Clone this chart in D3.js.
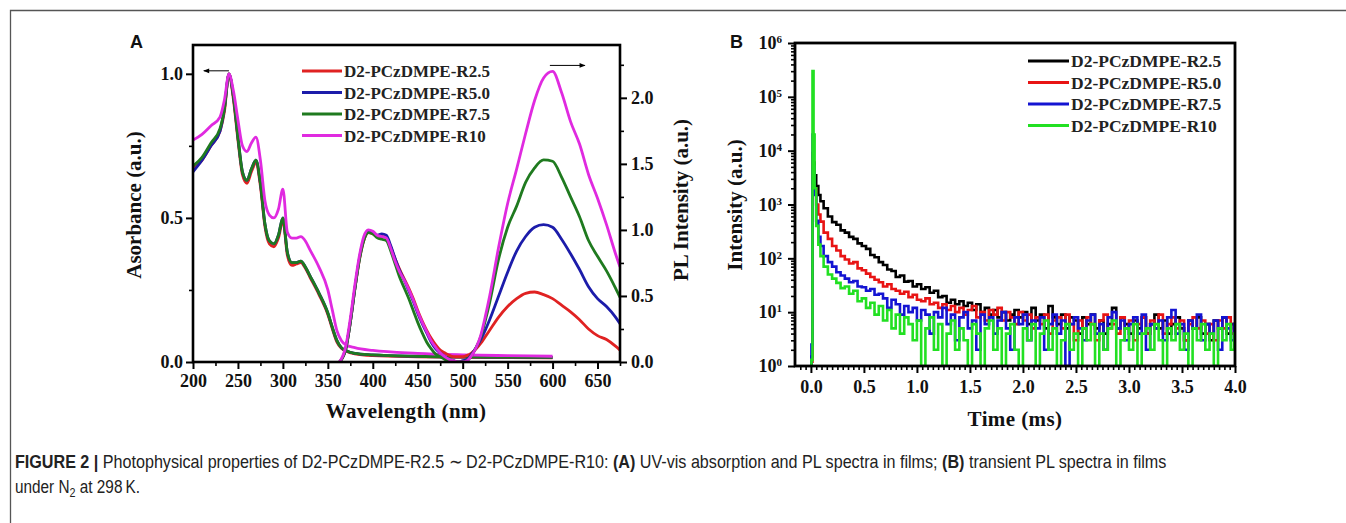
<!DOCTYPE html>
<html><head><meta charset="utf-8">
<script src="https://cdn.jsdelivr.net/npm/d3@7"></script>
<style>html,body{margin:0;padding:0;background:#fff;} svg{display:block;}</style>
</head><body>
<script>
// ---------- DATA ----------
const seriesNames = ["D2-PCzDMPE-R2.5","D2-PCzDMPE-R5.0","D2-PCzDMPE-R7.5","D2-PCzDMPE-R10"];
const colorsA = ["#e02222","#1c1caa","#1f7a1f","#e02ae0"];
const colorsB = ["#000000","#e81414","#1414d2","#22e022"];

// Panel A: UV-vis absorption (left axis)
const absWave = [200,210,220,230,235,240,245,250,255,260,265,270,275,280,285,290,295,300,305,310,315,320,325,330,340,350,355,360,365,370,380,400,450,500,550,600];
const absR25 = [0.67,0.70,0.75,0.80,0.87,1.0,0.91,0.77,0.65,0.62,0.66,0.69,0.61,0.47,0.41,0.40,0.43,0.49,0.37,0.335,0.34,0.345,0.325,0.295,0.235,0.165,0.115,0.07,0.048,0.038,0.028,0.022,0.018,0.016,0.015,0.014];
const absR50 = [0.66,0.70,0.75,0.80,0.88,1.0,0.92,0.78,0.66,0.63,0.67,0.70,0.62,0.48,0.42,0.41,0.44,0.50,0.38,0.345,0.345,0.35,0.33,0.30,0.24,0.17,0.12,0.075,0.05,0.04,0.03,0.025,0.02,0.018,0.017,0.016];
const absR75 = [0.68,0.71,0.76,0.81,0.88,1.0,0.92,0.78,0.66,0.63,0.67,0.70,0.62,0.48,0.42,0.41,0.44,0.50,0.38,0.345,0.345,0.35,0.33,0.30,0.24,0.17,0.12,0.075,0.05,0.04,0.03,0.025,0.02,0.018,0.017,0.016];
const absR10 = [0.77,0.79,0.82,0.85,0.91,1.0,0.94,0.84,0.75,0.73,0.76,0.78,0.70,0.56,0.51,0.50,0.53,0.60,0.45,0.43,0.43,0.435,0.42,0.39,0.33,0.25,0.18,0.11,0.075,0.06,0.05,0.04,0.03,0.025,0.022,0.02];

// Panel A: PL spectra (right axis)
const plWave = [363,370,375,380,385,390,395,400,405,410,415,420,425,430,435,440,445,450,455,460,465,470,475,480,485,490,495,500,505,510,515,520,525,530,540,550,560,570,580,590,600,610,620,630,640,650,660,670,675];
const plR25 = [0,0.10,0.30,0.55,0.77,0.92,0.98,0.97,0.95,0.95, 0.94,0.87,0.78,0.70,0.63,0.56,0.48,0.39,0.31,0.24, 0.18,0.13,0.09,0.07,0.05,0.04,0.04,0.04,0.05,0.07, 0.10,0.14,0.19,0.24,0.34,0.42,0.48,0.52,0.53,0.51, 0.48,0.43,0.38,0.32,0.25,0.20,0.17,0.12,0.09];
const plR50 = [0,0.10,0.30,0.55,0.78,0.93,0.99,0.98,0.96,0.97, 0.96,0.88,0.78,0.69,0.62,0.54,0.46,0.37,0.29,0.22, 0.15,0.10,0.07,0.04,0.02,0.01,0.0,0.01,0.02,0.06, 0.11,0.17,0.24,0.32,0.50,0.68,0.84,0.95,1.02,1.04, 1.02,0.93,0.82,0.70,0.57,0.48,0.42,0.34,0.29];
const plR75 = [0,0.10,0.30,0.55,0.77,0.92,0.98,0.97,0.94,0.93, 0.92,0.84,0.74,0.64,0.56,0.48,0.39,0.30,0.22,0.15, 0.10,0.06,0.04,0.02,0.01,0.0,0.0,0.0,0.01,0.05, 0.11,0.19,0.31,0.45,0.78,1.02,1.18,1.36,1.47,1.53, 1.52,1.40,1.25,1.10,0.92,0.80,0.69,0.56,0.49];
const plR10 = [0,0.12,0.33,0.58,0.80,0.95,1.0,0.99,0.96,0.95, 0.94,0.86,0.76,0.68,0.62,0.55,0.47,0.38,0.30,0.23, 0.16,0.11,0.07,0.04,0.02,0.01,0.0,0.0,0.01,0.05, 0.11,0.20,0.34,0.50,0.87,1.20,1.46,1.73,1.98,2.15, 2.20,2.04,1.82,1.65,1.42,1.24,1.04,0.82,0.72];

// Panel B: transient PL decay (time in ms)
const decayTime = [0,0.01,0.02,0.03,0.04,0.06,0.08,0.10,
 0.14,0.18,0.22,0.26,0.30,0.34,0.38,0.42,0.46,0.50,
 0.54,0.58,0.62,0.66,0.70,0.74,0.78,0.82,0.86,0.90,
 0.94,0.98,1.02,1.06,1.10,1.14,1.18,1.22,1.26,1.30,
 1.34,1.38,1.42,1.46,1.50,1.54,1.58,1.62,1.66,1.70,
 1.74,1.78,1.82,1.86,1.90,1.94,1.98,2.02,2.06,2.10,
 2.14,2.18,2.22,2.26,2.30,2.34,2.38,2.42,2.46,2.50,
 2.54,2.58,2.62,2.66,2.70,2.74,2.78,2.82,2.86,2.90,
 2.94,2.98,3.02,3.06,3.10,3.14,3.18,3.22,3.26,3.30,
 3.34,3.38,3.42,3.46,3.50,3.54,3.58,3.62,3.66,3.70,
 3.74,3.78,3.82,3.86,3.90,3.94,3.98,4.00];
const decR25 = [1,1.5,9000,6000,3500,2200,1500,1150,
 850,600,470,420,330,300,250,230,190,170,
 150,115,105,85,75,62,58,45,48,37,
 38,30,33,27,29,23,25,19,20,15,
 17,14,16,13,15,11,14,10,12,9,
 11,8,10,7,9,11,8,10,6,12,
 7,9,5,13,8,6,9,5,8,7,
 4,8,6,9,5,7,4,6,12,5,
 8,6,4,7,5,8,4,6,9,5,
 7,4,6,8,5,3,7,5,8,4,
 6,3,7,5,8,4,6,5];
const decR50 = [1,1.2,7000,4000,2000,1000,650,480,
 300,230,170,140,110,95,80,85,65,60,
 52,45,40,36,30,33,27,25,22,24,
 19,21,17,16,18,14,15,12,14,11,
 13,10,12,9,11,13,8,10,7,11,
 9,12,7,10,8,6,10,7,9,5,
 8,6,9,4,7,8,5,9,6,3,
 7,5,8,6,3,7,9,5,6,4,
 8,5,7,3,6,8,4,7,5,9,
 4,6,8,5,7,3,6,8,5,7,
 4,6,3,7,5,8,4,6];
const decR75 = [1,2.5,20000,5000,1500,500,250,170,
 110,85,70,55,48,42,36,38,30,29,
 25,27,21,22,18,12,17,14,9,13,
 10,12,7,11,9,4,10,8,12,6,
 9,3,8,10,5,7,2,9,6,8,
 4,7,10,5,2,8,6,9,3,7,
 5,8,2,6,9,4,7,1,6,8,
 5,3,7,9,4,6,2,8,10,5,
 7,3,6,8,4,9,2,6,5,7,
 3,8,11,4,6,2,7,5,9,3,
 6,4,7,2,8,5,3,6];
const decR10 = [1,1.3,300000,20000,2000,400,180,110,
 70,50,42,35,28,30,22,25,16,18,
 12,15,9,13,7,11,5,9,4,8,
 6,3,7,1,5,8,2,6,1,4,
 7,2,5,3,1,6,4,1,5,7,
 2,5,1,4,6,2,1,5,3,6,
 1,4,7,2,5,1,3,6,2,4,
 1,5,3,6,1,4,2,5,7,1,
 3,5,2,6,1,4,5,2,6,3,
 1,5,3,6,2,4,1,5,3,6,
 2,4,1,5,3,6,2,4];

const xTicksA = [200,250,300,350,400,450,500,550,600,650];
const yTicksA = [0.0,0.5,1.0];
const yTicksA2 = [0.0,0.5,1.0,1.5,2.0];
const xTicksB = [0.0,0.5,1.0,1.5,2.0,2.5,3.0,3.5,4.0];
const yTicksB = [1,10,100,1000,10000,100000,1000000];

// ---------- DRAW ----------
const W = 1346, H = 523;
const svg = d3.select("body").append("svg").attr("width", W).attr("height", H)
  .style("font-family", "'Liberation Serif', 'Times New Roman', serif");
svg.append("rect").attr("width", W).attr("height", H).attr("fill", "#fff");

svg.append("path").attr("d", `M10.5,${H} V10.5 H${W}`).attr("fill", "none").attr("stroke", "#555").attr("stroke-width", 1.3);

function styleAxis(g) {
  g.select(".domain").remove();
  g.selectAll("line").attr("stroke", "#000").attr("stroke-width", 2);
  g.selectAll("text").attr("font-size", "18px").attr("font-weight", "bold")
    .attr("fill", "#111").attr("font-family", "'Liberation Serif', serif");
}
function minorAxis(g) {
  g.select(".domain").remove();
  g.selectAll("line").attr("stroke", "#000").attr("stroke-width", 1.6);
  g.selectAll("text").remove();
}

// ===== Panel A =====
const A = {l: 193, r: 620, t: 45, b: 362};
const xA = d3.scaleLinear().domain([200, 675]).range([A.l, A.r]);
const yA = d3.scaleLinear().domain([0, 1.1]).range([A.b, A.t]);
const yA2 = d3.scaleLinear().domain([0, 2.4]).range([A.b, A.t]);

svg.append("clipPath").attr("id", "clipA").append("rect")
  .attr("x", A.l).attr("y", A.t).attr("width", A.r - A.l).attr("height", A.b - A.t);

const gA = svg.append("g");
gA.append("g").attr("transform", `translate(0,${A.b})`)
  .call(d3.axisBottom(xA).tickValues(d3.range(225, 676, 50)).tickSize(4).tickFormat("")).call(minorAxis);
gA.append("g").attr("transform", `translate(${A.l},0)`)
  .call(d3.axisLeft(yA).tickValues([0.25, 0.75]).tickSize(4).tickFormat("")).call(minorAxis);
gA.append("g").attr("transform", `translate(${A.r},0)`)
  .call(d3.axisRight(yA2).tickValues([0.25, 0.75, 1.25, 1.75, 2.25]).tickSize(4).tickFormat("")).call(minorAxis);
gA.append("g").attr("transform", `translate(0,${A.b})`)
  .call(d3.axisBottom(xA).tickValues(xTicksA).tickSize(7).tickPadding(5).tickFormat(d3.format("d"))).call(styleAxis);
gA.append("g").attr("transform", `translate(${A.l},0)`)
  .call(d3.axisLeft(yA).tickValues(yTicksA).tickSize(7).tickPadding(3).tickFormat(d3.format(".1f"))).call(styleAxis);
gA.append("g").attr("transform", `translate(${A.r},0)`)
  .call(d3.axisRight(yA2).tickValues(yTicksA2).tickSize(7).tickPadding(4).tickFormat(d3.format(".1f"))).call(styleAxis);

const plotA = gA.append("g").attr("clip-path", "url(#clipA)");
const absSets = [absR25, absR50, absR75, absR10];
const plSets = [plR25, plR50, plR75, plR10];
const lineAbs = d3.line().x((d, i) => xA(absWave[i])).y(d => yA(d)).curve(d3.curveMonotoneX);
const linePL = d3.line().x((d, i) => xA(plWave[i])).y(d => yA2(d)).curve(d3.curveMonotoneX);
absSets.forEach((s, k) => {
  plotA.append("path").attr("d", lineAbs(s)).attr("fill", "none").attr("stroke", colorsA[k])
    .attr("stroke-width", 2.8).attr("stroke-linejoin", "round");
});
plSets.forEach((s, k) => {
  plotA.append("path").attr("d", linePL(s)).attr("fill", "none").attr("stroke", colorsA[k])
    .attr("stroke-width", 2.8).attr("stroke-linejoin", "round");
});

gA.append("rect").attr("x", A.l).attr("y", A.t).attr("width", A.r - A.l).attr("height", A.b - A.t)
  .attr("fill", "none").attr("stroke", "#000").attr("stroke-width", 2.6);

const defs = svg.append("defs");
defs.append("marker").attr("id", "arrowHead").attr("viewBox", "0 0 10 10").attr("refX", 9).attr("refY", 5)
  .attr("markerWidth", 7).attr("markerHeight", 6).attr("orient", "auto-start-reverse")
  .append("path").attr("d", "M0,1 L10,5 L0,9 Z").attr("fill", "#000");
gA.append("line").attr("x1", xA(240)).attr("x2", xA(212)).attr("y1", yA(1.0) - 3).attr("y2", yA(1.0) - 3)
  .attr("stroke", "#000").attr("stroke-width", 1).attr("marker-end", "url(#arrowHead)");
gA.append("line").attr("x1", xA(597)).attr("x2", xA(636)).attr("y1", yA2(2.2) - 6).attr("y2", yA2(2.2) - 6)
  .attr("stroke", "#000").attr("stroke-width", 1).attr("marker-end", "url(#arrowHead)");

const legA = gA.append("g");
seriesNames.forEach((n, k) => {
  const y = 71 + k * 21.5;
  legA.append("line").attr("x1", 302).attr("x2", 342).attr("y1", y).attr("y2", y)
    .attr("stroke", colorsA[k]).attr("stroke-width", 3);
  legA.append("text").attr("x", 344).attr("y", y + 6).text(n)
    .attr("font-size", "17px").attr("font-weight", "bold").attr("fill", "#222");
});

svg.append("text").attr("x", 406).attr("y", 418).attr("text-anchor", "middle").text("Wavelength (nm)")
  .attr("font-size", "21px").attr("font-weight", "bold").attr("fill", "#111").attr("letter-spacing", "0.4px");
svg.append("text").attr("transform", "translate(141,205) rotate(-90)").attr("text-anchor", "middle")
  .text("Asorbance (a.u.)").attr("font-size", "21px").attr("font-weight", "bold").attr("fill", "#111");
svg.append("text").attr("transform", "translate(688,200) rotate(-90)").attr("text-anchor", "middle")
  .text("PL Intensity (a.u.)").attr("font-size", "21px").attr("font-weight", "bold").attr("fill", "#111");

// ===== Panel B =====
const B = {l: 795, r: 1235, t: 43, b: 366};
const xB = d3.scaleLinear().domain([-0.15, 4.0]).range([B.l, B.r]);
const yB = d3.scaleLog().domain([1, 1e6]).range([B.b, B.t]);

svg.append("clipPath").attr("id", "clipB").append("rect")
  .attr("x", B.l).attr("y", B.t).attr("width", B.r - B.l).attr("height", B.b - B.t);

const gB = svg.append("g");
const minorX = d3.range(-0.1, 4.001, 0.05).filter(v => Math.abs(v / 0.5 - Math.round(v / 0.5)) > 1e-6);
gB.append("g").attr("transform", `translate(0,${B.b})`)
  .call(d3.axisBottom(xB).tickValues(minorX).tickSize(4).tickFormat("")).call(minorAxis);
const minorY = [];
for (let e = 0; e < 6; e++) for (let m = 2; m <= 9; m++) minorY.push(m * Math.pow(10, e));
gB.append("g").attr("transform", `translate(${B.l},0)`)
  .call(d3.axisLeft(yB).tickValues(minorY).tickSize(4).tickFormat("")).call(minorAxis);
gB.append("g").attr("transform", `translate(0,${B.b})`)
  .call(d3.axisBottom(xB).tickValues(xTicksB).tickSize(7).tickPadding(7).tickFormat(d3.format(".1f"))).call(styleAxis);
const yAxB = gB.append("g").attr("transform", `translate(${B.l},0)`)
  .call(d3.axisLeft(yB).tickValues(yTicksB).tickSize(7).tickPadding(6)).call(styleAxis);
yAxB.selectAll(".tick text").each(function(d) {
  const t = d3.select(this);
  t.text("");
  t.append("tspan").text("10");
  t.append("tspan").attr("dy", "-0.55em").attr("font-size", "11px").text(Math.round(Math.log10(d)));
});

const plotB = gB.append("g").attr("clip-path", "url(#clipB)");
const decSets = [decR25, decR50, decR75, decR10];
const lineB = d3.line().x((d, i) => xB(decayTime[i])).y(d => yB(d)).curve(d3.curveStep);
decSets.forEach((s, k) => {
  plotB.append("path").attr("d", lineB(s)).attr("fill", "none").attr("stroke", colorsB[k])
    .attr("stroke-width", 2.6).attr("stroke-linejoin", "miter");
});
gB.append("rect").attr("x", B.l).attr("y", B.t).attr("width", B.r - B.l).attr("height", B.b - B.t)
  .attr("fill", "none").attr("stroke", "#000").attr("stroke-width", 2.8);

const legB = gB.append("g");
seriesNames.forEach((n, k) => {
  const y = 61 + k * 21.5;
  legB.append("line").attr("x1", 1028).attr("x2", 1069).attr("y1", y).attr("y2", y)
    .attr("stroke", colorsB[k]).attr("stroke-width", 3);
  legB.append("text").attr("x", 1071).attr("y", y + 6).text(n)
    .attr("font-size", "17.5px").attr("font-weight", "bold").attr("fill", "#222");
});

svg.append("text").attr("x", 1015).attr("y", 426).attr("text-anchor", "middle").text("Time (ms)")
  .attr("font-size", "21px").attr("font-weight", "bold").attr("fill", "#111").attr("letter-spacing", "0.4px");
svg.append("text").attr("transform", "translate(742,205) rotate(-90)").attr("text-anchor", "middle")
  .text("Intensity (a.u.)").attr("font-size", "21px").attr("font-weight", "bold").attr("fill", "#111");

svg.append("text").attr("x", 130).attr("y", 48).text("A").attr("font-family", "'Liberation Sans', Arial, sans-serif")
  .attr("font-size", "18px").attr("font-weight", "bold").attr("fill", "#111");
svg.append("text").attr("x", 730).attr("y", 48).text("B").attr("font-family", "'Liberation Sans', Arial, sans-serif")
  .attr("font-size", "18px").attr("font-weight", "bold").attr("fill", "#111");

// caption (condensed by horizontal scaling to match the narrow journal font)
function captionLine(y, targetWidth, build) {
  const g = svg.append("g");
  const t = g.append("text").attr("x", 0).attr("y", 0)
    .attr("font-family", "'Liberation Sans', Arial, sans-serif").attr("font-size", "18.5px").attr("fill", "#222");
  build(t);
  const w = t.node().getComputedTextLength();
  g.attr("transform", `translate(15,${y}) scale(${targetWidth / w},1)`);
}
captionLine(468, 1153, t => {
  t.append("tspan").attr("font-weight", "bold").text("FIGURE 2 | ");
  t.append("tspan").text("Photophysical properties of D2-PCzDMPE-R2.5 \u223C D2-PCzDMPE-R10: ");
  t.append("tspan").attr("font-weight", "bold").text("(A)");
  t.append("tspan").text(" UV-vis absorption and PL spectra in films; ");
  t.append("tspan").attr("font-weight", "bold").text("(B)");
  t.append("tspan").text(" transient PL spectra in films");
});
captionLine(493, 125, t => {
  t.append("tspan").text("under N");
  t.append("tspan").attr("font-size", "13px").attr("dy", "4").text("2");
  t.append("tspan").attr("dy", "-4").text(" at 298\u2009K.");
});
</script>
</body></html>
